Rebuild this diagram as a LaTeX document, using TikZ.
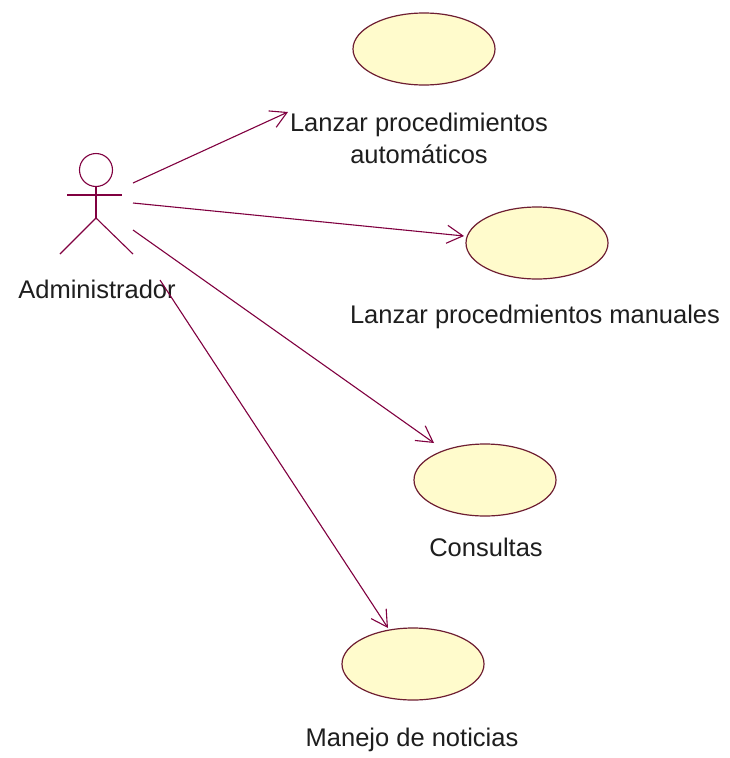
\documentclass[tikz,border=0pt]{standalone}
\usepackage{fontspec}
\setmainfont{Liberation Sans}
\usetikzlibrary{shapes.geometric,arrows.meta,calc}
\definecolor{assoc}{RGB}{128,0,64}
\definecolor{ucline}{RGB}{110,30,50}
\definecolor{ucfill}{RGB}{255,251,204}
\definecolor{labeltext}{RGB}{30,30,30}
\begin{document}
\begin{tikzpicture}[x=1pt,y=-1pt,
  usecase/.style={ellipse, draw=ucline, fill=ucfill, line width=1.2pt,
    minimum width=142pt, minimum height=72pt, inner sep=0pt},
  lbl/.style={font=\fontsize{25.5}{32}\selectfont, text=labeltext, inner sep=0pt},
  assocline/.style={draw=assoc, line width=1.1pt,
    -{Straight Barb[length=16pt,width=18pt,line width=1.1pt]}},
  actorline/.style={draw=assoc, line width=1.1pt}]
% canvas
\fill[white] (0,0) rectangle (730,758);
\useasboundingbox (0,0) rectangle (730,758);

% actor
\node[circle, draw=assoc, line width=1.1pt, minimum size=33pt, inner sep=0pt] (head) at (96,170) {};
\coordinate (hip) at (96,218);
\coordinate (lhand) at (67,195);
\coordinate (rhand) at (122,195);
\coordinate (lfoot) at (60,254);
\coordinate (rfoot) at (133,254);
\draw[actorline] (head.south) -- (hip);
\draw[actorline] (lhand) -- (rhand);
\draw[actorline] (lfoot) -- (hip) -- (rfoot);
\node[lbl, anchor=base] (actorlbl) at (97,298) {Administrador};

% use cases
\node[usecase] (uc1) at (424,49) {};
\node[lbl, align=center] (uc1lbl) at (419,138.5) {Lanzar procedimientos\\automáticos};
\node[usecase] (uc2) at (537,243) {};
\node[lbl, anchor=base] (uc2lbl) at (535,323) {Lanzar procedmientos manuales};
\node[usecase] (uc3) at (485,480) {};
\node[lbl, anchor=base] (uc3lbl) at (486,556) {Consultas};
\node[usecase] (uc4) at (413,664) {};
\node[lbl, anchor=base] (uc4lbl) at (412,746) {Manejo de noticias};

% association ends
\coordinate (s1) at (133,183);
\coordinate (s2) at (133,203);
\coordinate (s3) at (133,230);
\coordinate (s4) at (160,280);
\coordinate (e1) at (288,112);
\coordinate (e2) at (464,236);
\coordinate (e3) at (434,443);
\coordinate (e4) at (388,628);

\draw[assocline] (s1) -- (e1);
\draw[assocline] (s2) -- (e2);
\draw[assocline] (s3) -- (e3);
\draw[assocline] (s4) -- (e4);
\end{tikzpicture}
\end{document}
